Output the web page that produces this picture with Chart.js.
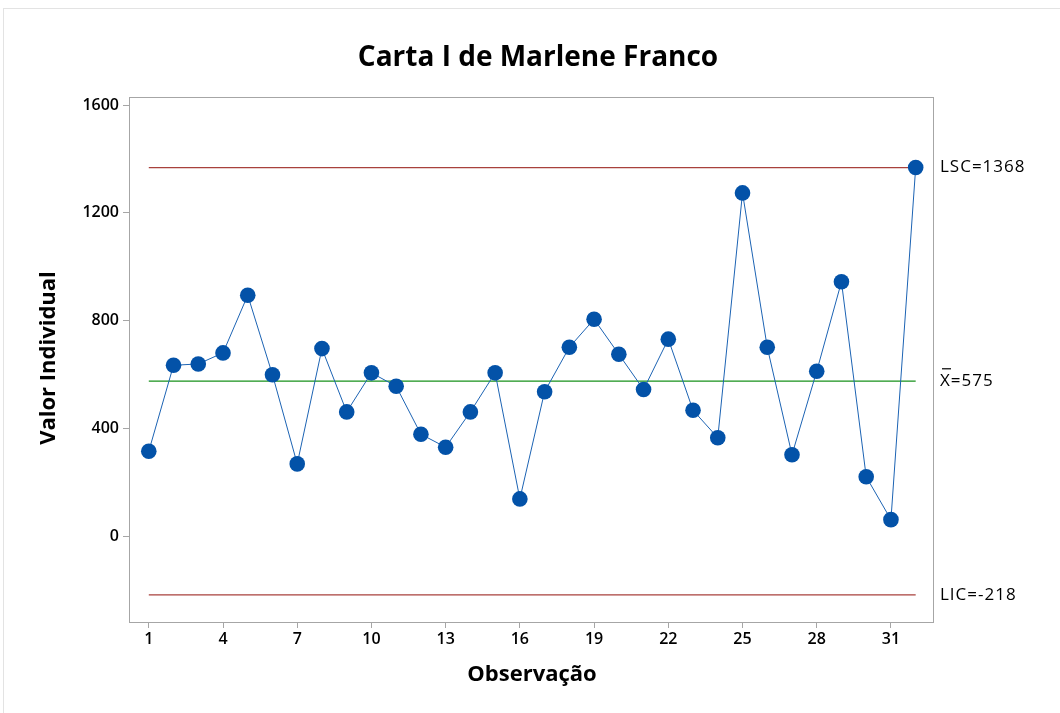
<!DOCTYPE html>
<html><head><meta charset="utf-8">
<script src="https://cdn.jsdelivr.net/npm/chart.js@4.4.1/dist/chart.umd.min.js"></script>
<style>
html,body{margin:0;padding:0;background:#fff;}
#wrap{position:relative;width:1060px;height:713px;}
#frame{position:absolute;left:3px;top:8px;width:1060px;height:713px;border-left:1px solid #e3e3e3;border-top:1px solid #e3e3e3;}
canvas{position:absolute;left:0;top:0;}
</style></head>
<body><div id="wrap"><div id="frame"></div><canvas id="c" width="1060" height="713"></canvas></div>
<script>
const observations = [1,2,3,4,5,6,7,8,9,10,11,12,13,14,15,16,17,18,19,20,21,22,23,24,25,26,27,28,29,30,31,32];
const values = [315,634,639,680,894,599,268,696,461,606,556,378,330,461,606,138,536,701,805,675,544,731,467,365,1274,701,302,612,944,220,61,1368];
const xTickLabels = [1,4,7,10,13,16,19,22,25,28,31];
const yTickLabels = [0,400,800,1200,1600];
const ucl = 1368, centerLine = 575, lcl = -218;
const titleText = "Carta I de Marlene Franco";
const xTitle = "Observação";
const yTitle = "Valor Individual";

const FONT = '"Open Sans", "Noto Sans", sans-serif';

const textPlugin = {
  id: 'texts',
  afterDraw(chart) {
    const ctx = chart.ctx, a = chart.chartArea;
    const y = chart.scales.y;
    ctx.save();
    ctx.strokeStyle = '#a6a6a6'; ctx.lineWidth = 1;
    ctx.strokeRect(a.left + 0.5, a.top + 0.5, a.right - a.left, a.bottom - a.top);
    ctx.fillStyle = '#000';
    ctx.textAlign = 'center'; ctx.textBaseline = 'middle';
    ctx.font = '700 28px ' + FONT;
    ctx.fillText(titleText, 538, 58);
    ctx.font = '700 22px ' + FONT;
    ctx.fillText(xTitle, 532, 675);
    ctx.save();
    ctx.translate(49, 358); ctx.rotate(-Math.PI / 2);
    ctx.fillText(yTitle, 0, 0);
    ctx.restore();
    ctx.textAlign = 'left';
    ctx.font = '17px ' + FONT;
    if ('letterSpacing' in ctx) ctx.letterSpacing = '1px';
    ctx.fillText('LSC=' + ucl, 940, y.getPixelForValue(ucl));
    ctx.fillText('LIC=' + lcl, 940, y.getPixelForValue(lcl));
    const cy = y.getPixelForValue(centerLine);
    ctx.fillText('X=' + centerLine, 940, cy);
    ctx.fillRect(942, cy - 13, 9, 1.2);
    ctx.restore();
  }
};

const ctlLine = (v, color) => ({
  data: [{x: observations[0], y: v}, {x: observations[observations.length - 1], y: v}],
  borderColor: color, borderWidth: 1.3, pointRadius: 0, showLine: true, order: 2
});

new Chart(document.getElementById('c'), {
  type: 'scatter',
  data: {
    datasets: [
      ctlLine(ucl, '#a8413c'),
      ctlLine(lcl, '#a8413c'),
      ctlLine(centerLine, '#17911b'),
      {
        data: observations.map((o, i) => ({x: o, y: values[i]})),
        showLine: true, borderColor: '#1c63b3', borderWidth: 1,
        pointRadius: 7.8, pointBackgroundColor: '#0352a8', pointBorderColor: '#0352a8',
        pointBorderWidth: 0, order: 1
      }
    ]
  },
  options: {
    responsive: false, animation: false,
    layout: {padding: {left: 0, top: 97, right: 127, bottom: 0}},
    plugins: {legend: {display: false}, tooltip: {enabled: false}, title: {display: false}},
    scales: {
      x: {
        type: 'linear', min: 0.2, max: 32.7,
        afterBuildTicks: s => { s.ticks = xTickLabels.map(v => ({value: v})); },
        afterFit: s => { s.height = 91; },
        grid: {display: true, drawOnChartArea: false, drawTicks: true, tickLength: 6, color: '#a6a6a6'},
        border: {display: true, color: '#a6a6a6'},
        ticks: {color: '#000', font: {family: FONT, size: 16, weight: '600'}, padding: 2, maxRotation: 0, autoSkip: false,
                callback: v => String(v)}
      },
      y: {
        min: -319, max: 1630,
        afterBuildTicks: s => { s.ticks = yTickLabels.map(v => ({value: v})); },
        afterFit: s => { s.width = 129; },
        grid: {display: true, drawOnChartArea: false, drawTicks: true, tickLength: 6, color: '#a6a6a6'},
        border: {display: true, color: '#a6a6a6'},
        ticks: {color: '#000', font: {family: FONT, size: 16, weight: '600'}, padding: 4,
                callback: v => String(v)}
      }
    }
  },
  plugins: [textPlugin]
});
</script></body></html>
